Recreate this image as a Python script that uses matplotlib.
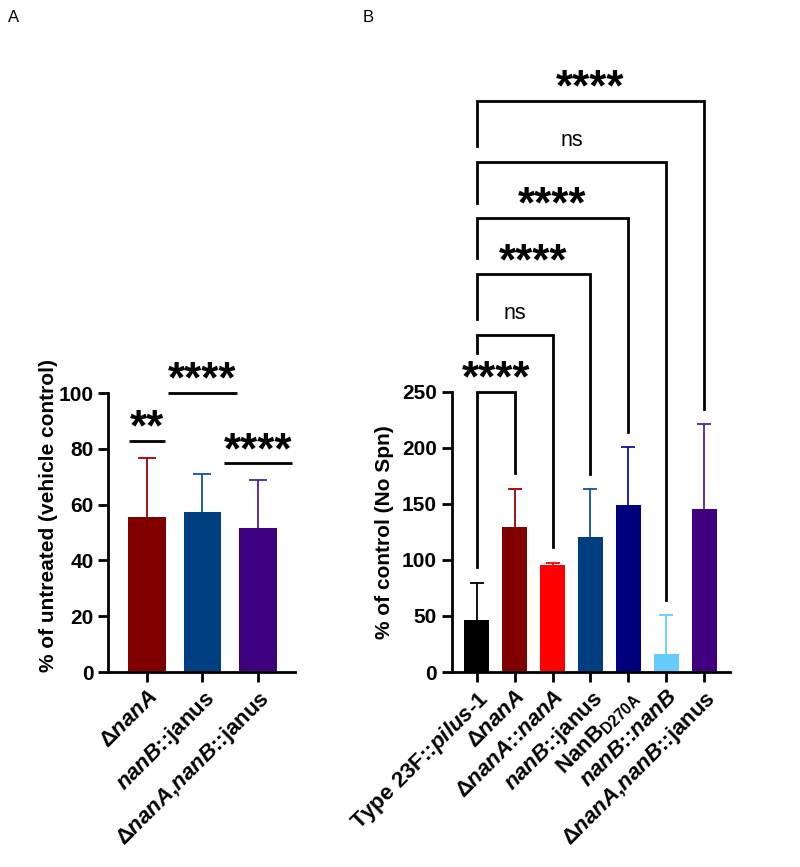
import matplotlib
matplotlib.use("Agg")
import matplotlib.pyplot as plt
import numpy as np

plt.rcParams['font.family'] = ['Liberation Sans', 'DejaVu Sans']
plt.rcParams['font.weight'] = 'bold'
plt.rcParams['mathtext.fontset'] = 'custom'
plt.rcParams['mathtext.rm'] = 'Liberation Sans:bold'
plt.rcParams['mathtext.it'] = 'Liberation Sans:italic:bold'
plt.rcParams['mathtext.bf'] = 'Liberation Sans:bold'

# ---------------- data ----------------
catsA = [r"Δ$\it{nanA}$", r"$\it{nanB}$::janus", r"Δ$\it{nanA}$,$\it{nanB}$::janus"]
meanA = [55.7, 57.4, 51.5]
sdA = [20.9, 13.6, 17.5]
colorsA = ['#800000', '#003F7F', '#3F007F']
ecolorsA = ['#A00000', '#1050A0', '#5020A0']

catsB = [r"Type 23F::$\it{pilus}$-1", r"Δ$\it{nanA}$", r"Δ$\it{nanA}$::$\it{nanA}$",
         r"$\it{nanB}$::janus", r"NanB$_{\mathrm{D270A}}$", r"$\it{nanB}$::$\it{nanB}$",
         r"Δ$\it{nanA}$,$\it{nanB}$::janus"]
meanB = [46.8, 129.2, 95.0, 120.3, 149.1, 16.4, 145.3]
sdB = [32.7, 34.2, 2.3, 42.5, 51.2, 34.2, 75.6]
colorsB = ['#000000', '#800000', '#FF0000', '#003F7F', '#00007F', '#66CCFF', '#3F007F']
ecolorsB = ['#000000', '#A00000', '#FF0000', '#1050A0', '#1010A0', '#66CCFF', '#5020A0']

# significance annotations
sigA_labels = ["**", "****", "****"]
sigA_center = [0, 1, 2]
sigA_half = [0.32, 0.62, 0.62]
sigA_height = [82.8, 100.0, 74.8]

sigB_labels = ["****", "ns", "****", "****", "ns", "****"]
sigB_target = [1, 2, 3, 4, 5, 6]
sigB_top = [250, 300.6, 354.8, 404.8, 454.8, 509.6]
sigB_leftbottom = [93.3, 284.3, 314.6, 369.0, 418.2, 468.8]

STAR_FS = 31.5
NS_FS = 15.5
XLAB_FS = 16

fig = plt.figure(figsize=(8, 8.67), dpi=100)

axA = fig.add_axes([0.135, 0.2249, 0.234, 0.3218])
axB = fig.add_axes([0.5646, 0.2249, 0.3479, 0.3233])


def style(ax):
    for s in ['top', 'right']:
        ax.spines[s].set_visible(False)
    for s in ['left', 'bottom']:
        ax.spines[s].set_linewidth(2)
    ax.tick_params(width=2, length=7)
    ax.tick_params(axis='y', labelsize=15)


def sig_text(ax, x, y, label):
    if label == 'ns':
        ax.annotate(label, xy=(x, y), xytext=(0, 11.5), textcoords='offset points',
                    ha='center', va='baseline', fontsize=NS_FS, fontweight='normal',
                    annotation_clip=False)
    else:
        ax.annotate(label, xy=(x, y), xytext=(0, 0.2), textcoords='offset points',
                    ha='center', va='baseline', fontsize=STAR_FS, fontweight='bold',
                    annotation_clip=False)


# ---------------- Panel A ----------------
style(axA)
xA = np.arange(len(meanA))
axA.bar(xA, meanA, width=0.68, color=colorsA, zorder=2)
for i in range(len(meanA)):
    axA.errorbar(xA[i], meanA[i], yerr=sdA[i], fmt='none', ecolor=ecolorsA[i],
                 elinewidth=1.3, capsize=6.5, capthick=1.3, zorder=1)
axA.set_xlim(-0.7, 2.67)
axA.set_ylim(0, 100)
axA.set_yticks([0, 20, 40, 60, 80, 100])
axA.set_xticks(xA)
axA.set_xticklabels(catsA, rotation=45, ha='right', rotation_mode='anchor', fontsize=XLAB_FS)
axA.set_ylabel('% of untreated (vehicle control)', fontsize=15, fontweight='bold')
axA.yaxis.set_label_coords(-0.268, 0.561)
for lab, c, h, y in zip(sigA_labels, sigA_center, sigA_half, sigA_height):
    axA.plot([c - h, c + h], [y, y], color='black', lw=2, clip_on=False, solid_capstyle='butt')
    sig_text(axA, c, y, lab)

# ---------------- Panel B ----------------
style(axB)
xB = np.arange(len(meanB))
axB.bar(xB, meanB, width=0.66, color=colorsB, zorder=2)
for i in range(len(meanB)):
    axB.errorbar(xB[i], meanB[i], yerr=sdB[i], fmt='none', ecolor=ecolorsB[i],
                 elinewidth=1.3, capsize=5, capthick=1.3, zorder=1)
axB.set_xlim(-0.66, 6.68)
axB.set_ylim(0, 250)
axB.set_yticks([0, 50, 100, 150, 200, 250])
axB.set_xticks(xB)
axB.set_xticklabels(catsB, rotation=45, ha='right', rotation_mode='anchor', fontsize=XLAB_FS)
axB.set_ylabel('% of control (No Spn)', fontsize=15, fontweight='bold', labelpad=6)
for lab, t, top, lb in zip(sigB_labels, sigB_target, sigB_top, sigB_leftbottom):
    rb = meanB[t] + sdB[t] + 14
    axB.plot([0, 0, t, t], [lb, top, top, rb], color='black', lw=2, clip_on=False,
             solid_joinstyle='miter')
    sig_text(axB, t / 2, top, lab)

fig.text(8 / 800, 1 - 17 / 867, 'A', fontsize=12, fontweight='normal', va='center', ha='left')
fig.text(363 / 800, 1 - 17 / 867, 'B', fontsize=12, fontweight='normal', va='center', ha='left')

fig.savefig('out.png', dpi=100)
